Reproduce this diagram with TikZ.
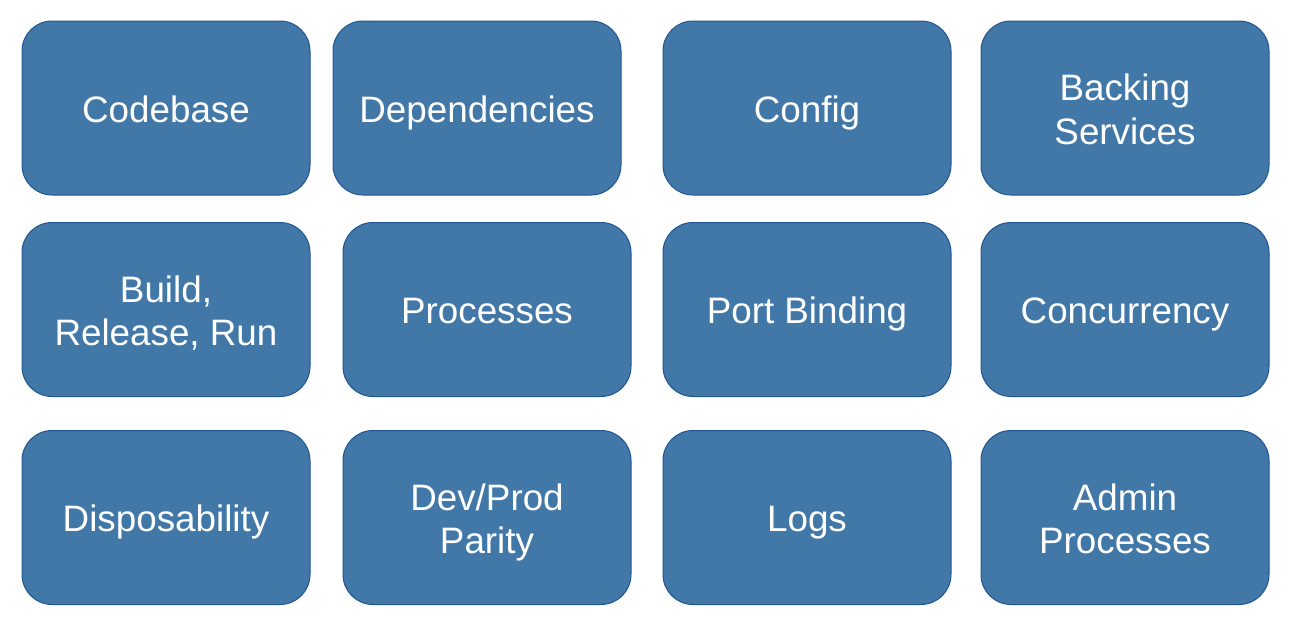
\documentclass[tikz,border=0pt]{standalone}
\usepackage{fontspec}
\setmainfont{Liberation Sans}
\definecolor{boxfill}{HTML}{4178A8}
\definecolor{boxline}{HTML}{1F5590}
\begin{document}
\begin{tikzpicture}[x=1pt,y=-1pt,
  factor/.style={draw=boxline, line width=1pt, fill=boxfill, rounded corners=30pt,
    minimum width=288pt, minimum height=174pt, inner sep=0pt},
  ftext/.style={text=white, align=center, inner sep=0pt, text depth=0pt,
    font=\fontsize{36.8pt}{43.4pt}\selectfont}]
\useasboundingbox (0,0) rectangle (1299,637);
% row 1
\node[factor] (codebase) at (166,108) {};
\node[factor] (deps) at (477,108) {};
\node[factor] (config) at (807,108) {};
\node[factor] (backing) at (1125,108) {};
\node[ftext] at ([yshift=-1pt]codebase.center) {Codebase};
\node[ftext] at ([yshift=-1pt]deps.center) {Dependencies};
\node[ftext] at ([yshift=-1pt]config.center) {Config};
\node[ftext] at ([yshift=-1pt]backing.center) {Backing\\Services};
% row 2
\node[factor] (build) at (166,309.5) {};
\node[factor] (proc) at (487,309.5) {};
\node[factor] (port) at (807,309.5) {};
\node[factor] (conc) at (1125,309.5) {};
\node[ftext] at ([yshift=-1pt]build.center) {Build,\\Release, Run};
\node[ftext] at ([yshift=-1pt]proc.center) {Processes};
\node[ftext] at ([yshift=-1pt]port.center) {Port Binding};
\node[ftext] at ([yshift=-1pt]conc.center) {Concurrency};
% row 3
\node[factor] (disp) at (166,517.5) {};
\node[factor] (devprod) at (487,517.5) {};
\node[factor] (logs) at (807,517.5) {};
\node[factor] (admin) at (1125,517.5) {};
\node[ftext] at ([yshift=-1pt]disp.center) {Disposability};
\node[ftext] at ([yshift=-1pt]devprod.center) {Dev/Prod\\Parity};
\node[ftext] at ([yshift=-1pt]logs.center) {Logs};
\node[ftext] at ([yshift=-1pt]admin.center) {Admin\\Processes};
\end{tikzpicture}
\end{document}
